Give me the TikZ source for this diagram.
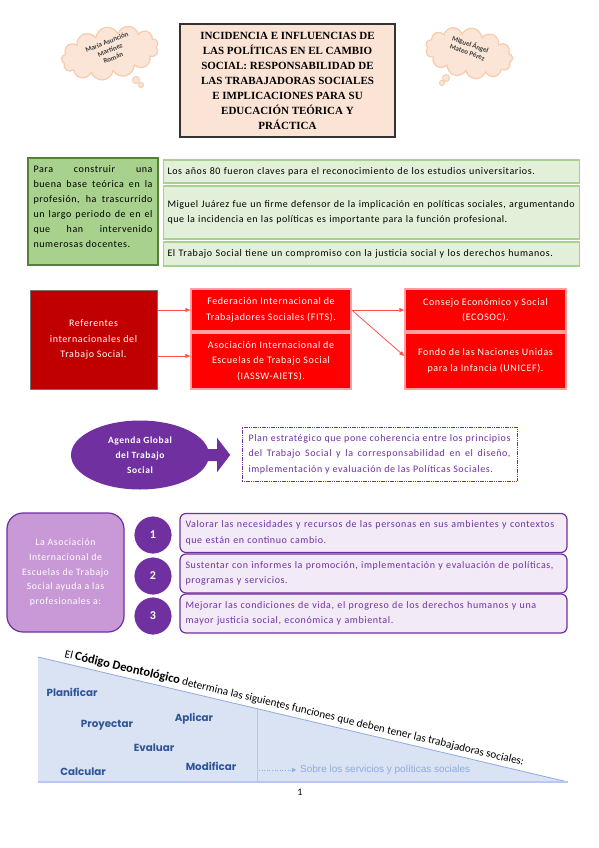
\documentclass[tikz,border=0pt]{standalone}
\usepackage{fontspec}
\setmainfont{Carlito}[LetterSpace=6]
\newfontfamily\plainfont{Carlito}
\newfontfamily\titlefont{Liberation Serif}
\newfontfamily\wordfont{Poppins}
\newfontfamily\arialfont{Liberation Sans}
\usetikzlibrary{shapes.symbols,shapes.geometric,arrows.meta,calc}
\definecolor{cloudfill}{HTML}{FBE5D6}
\definecolor{cloudline}{HTML}{F8CBAD}
\definecolor{titlefill}{HTML}{FBE4D5}
\definecolor{gdarkfill}{HTML}{A9D18E}
\definecolor{gdarkline}{HTML}{548235}
\definecolor{glightfill}{HTML}{E2EFD9}
\definecolor{glightline}{HTML}{A9D18E}
\definecolor{rdark}{HTML}{C00000}
\definecolor{rbright}{HTML}{FF0000}
\definecolor{rline}{HTML}{FF9F9F}
\definecolor{rarrowcol}{HTML}{FF5050}
\definecolor{purp}{HTML}{7030A0}
\definecolor{lpurp}{HTML}{C899D6}
\definecolor{lavender}{HTML}{F3EAF8}
\definecolor{trifill}{HTML}{DAE3F3}
\definecolor{triline}{HTML}{B4C7E7}
\definecolor{wordblue}{HTML}{2F5597}
\definecolor{sobrecol}{HTML}{8FAADC}
\tikzset{
  basefont/.style={font=\fontsize{10}{15.5}\selectfont},
  cloudbox/.style={cloud, cloud puffs=13, aspect=1.9, draw=cloudline, fill=cloudfill, line width=1.2, minimum width=98, minimum height=52},
  cloudtext/.style={font=\plainfont\bfseries\fontsize{7}{8.5}\selectfont, text=black!75, align=center},
  titlebox/.style={draw=black!80, line width=1.5, fill=titlefill, minimum width=215, minimum height=113, align=center, font=\titlefont\bfseries\fontsize{11}{15}\selectfont},
  gdark/.style={draw=gdarkline, line width=2.5, fill=gdarkfill},
  glight/.style={draw=glightline, line width=1.5, fill=glightfill, minimum width=416, text width=408, inner xsep=4, align=left, basefont},
  rleft/.style={draw=black!55, line width=1, fill=rdark, text=white, align=center, basefont},
  rbox/.style={draw=rline, line width=1.5, fill=rbright, text=white, align=center, minimum width=160, basefont},
  rarrow/.style={draw=rarrowcol, line width=0.8, -{Triangle[length=5pt,width=4pt]}},
  nbox/.style={draw=purp, line width=1.2, fill=lavender, rounded corners=6, minimum width=387, minimum height=39, text width=376, align=left, text=purp, basefont},
  numc/.style={circle, fill=purp, draw=white, line width=0.8, minimum size=38, text=white, font=\bfseries\fontsize{12}{12}\selectfont},
  word/.style={text=wordblue, font=\wordfont\bfseries\fontsize{10.3}{11}\selectfont},
}
\begin{document}
\begin{tikzpicture}[x=1pt,y=-1pt]
\useasboundingbox[fill=white] (0,0) rectangle (599,848);

% clouds
\node[cloudbox, rotate=10] (cl1) at (110,53) {};
\node[circle, fill=cloudfill, draw=cloudline, line width=1, minimum size=7, inner sep=0] (cl1a) at (136,80) {};
\node[circle, fill=cloudfill, draw=cloudline, line width=1, minimum size=5, inner sep=0] (cl1b) at (141,85) {};
\node[cloudtext, rotate=22] (cl1t) at (110,50) {María Asunción\\Martínez\\Román};

\node[cloudbox, rotate=-10, minimum width=88, minimum height=50] (cl2) at (469,53) {};
\node[circle, fill=cloudfill, draw=cloudline, line width=1, minimum size=7, inner sep=0] (cl2a) at (446,78) {};
\node[circle, fill=cloudfill, draw=cloudline, line width=1, minimum size=5, inner sep=0] (cl2b) at (442,83) {};
\node[cloudtext, rotate=-20] (cl2t) at (469,48) {Miguel Ángel\\Mateo Pérez};

% title
\node[titlebox] (title) at (287.5,80.5) {INCIDENCIA E INFLUENCIAS DE\\LAS POLÍTICAS EN EL CAMBIO\\SOCIAL: RESPONSABILIDAD DE\\LAS TRABAJADORAS SOCIALES\\E IMPLICACIONES PARA SU\\EDUCACIÓN TEÓRICA Y\\PRÁCTICA};

% green section
\node[gdark, minimum width=130, minimum height=107] (g0) at (93,211.5) {};
\node[font=\fontsize{10}{15}\selectfont, text width=119, align=justify, anchor=north] (g0t) at (g0.north) [yshift=-5pt] {Para construir una\linebreak buena base teórica en la\linebreak profesión, ha trascurrido\linebreak un largo periodo de en el\linebreak que han intervenido\linebreak numerosas docentes.};
\node[glight, minimum height=23] (g1) at (371.5,171.5) {Los años 80 fueron claves para el reconocimiento de los estudios universitarios.};
\node[glight, minimum height=53, font=\addfontfeatures{LetterSpace=5}\fontsize{10}{15.5}\selectfont] (g2) at (371.5,212.5) {Miguel Juárez fue un firme defensor de la implicación en políticas sociales, argumentando\\que la incidencia en las políticas es importante para la función profesional.};
\node[glight, minimum height=24] (g3) at (371.5,254) {El Trabajo Social tiene un compromiso con la justicia social y los derechos humanos.};

% red section
\node[rleft, minimum width=127, minimum height=99] (r0) at (93.5,339.5) {Referentes\\internacionales del\\Trabajo Social.};
\node[rbox, minimum height=42] (m1) at (271,310) {Federación Internacional de\\Trabajadores Sociales (FITS).};
\node[rbox, minimum height=56] (m2) at (271,361) {Asociación Internacional de\\Escuelas de Trabajo Social\\(IASSW-AIETS).};
\node[rbox, minimum width=161, minimum height=42] (n1) at (485.5,310) {Consejo Económico y Social\\(ECOSOC).};
\node[rbox, minimum width=161, minimum height=56] (n2) at (485.5,361) {Fondo de las Naciones Unidas\\para la Infancia (UNICEF).};
\draw[rarrow] (r0.east |- m1.west) -- (m1.west);
\draw[rarrow] (r0.east |- 0,356) -- (m2.west |- 0,356);
\draw[rarrow] (m1.east) -- (n1.west);
\draw[rarrow] (m1.east) -- (n2.west |- 0,356);

% agenda
\node[ellipse, fill=purp, minimum width=138, minimum height=69, text=white, align=center, font=\bfseries\fontsize{9.5}{15}\selectfont] (ag) at (140,455) {Agenda Global\\del Trabajo\\Social};
\fill[purp] ($(ag.east)+(-4,-6)$) -- ($(ag.east)+(8,-6)$) -- ($(ag.east)+(8,-17)$) -- ($(ag.east)+(21,0)$) -- ($(ag.east)+(8,17)$) -- ($(ag.east)+(8,6)$) -- ($(ag.east)+(-4,6)$) -- cycle;
\node[draw=purp, line width=1, dash pattern=on 1.2pt off 0.6pt, minimum width=275, minimum height=54, text width=262, align=justify, text=purp, basefont] (plan) at (379.5,454) {Plan estratégico que pone coherencia entre los principios\linebreak del Trabajo Social y la corresponsabilidad en el diseño,\linebreak implementación y evaluación de las Políticas Sociales.};

% numbered section
\node[draw=purp, line width=1.2, fill=lpurp, rounded corners=16, minimum width=117, minimum height=119, text=white, align=center, font=\fontsize{9.8}{14.8}\selectfont] (asoc) at (65.5,572.5) {La Asociación\\Internacional de\\Escuelas de Trabajo\\Social ayuda a las\\profesionales a:};
\node[nbox] (b1) at (373.5,533) {Valorar las necesidades y recursos de las personas en sus ambientes y contextos\\que están en continuo cambio.};
\node[nbox] (b2) at (373.5,573.5) {Sustentar con informes la promoción, implementación y evaluación de políticas,\\programas y servicios.};
\node[nbox] (b3) at (373.5,613.5) {Mejorar las condiciones de vida, el progreso de los derechos humanos y una\\mayor justicia social, económica y ambiental.};
\node[numc] (c1) at (153,535) {1};
\node[numc] (c2) at (153,576) {2};
\node[numc] (c3) at (153,616) {3};

% triangle
\fill[trifill] (38,657) -- (38,782) -- (568,782) -- cycle;
\draw[sobrecol, line width=0.8] (38,657) -- (568,782);
\draw[triline!80!blue!60, line width=1.5] (38,782) -- (568,782);
\draw[triline, line width=0.8] (257,708.6) -- (257,782);
\node[anchor=base west, rotate=-13.3, inner sep=0, font=\plainfont\fontsize{11.2}{12}\selectfont] (hyp) at (64,657) {El {\bfseries\fontsize{12.5}{14}\selectfont Código Deontológico} determina las siguientes funciones que deben tener las trabajadoras sociales:};
\node[word] (w1) at (72,692) {Planificar};
\node[word] (w2) at (107,725) {Proyectar};
\node[word] (w3) at (194,719) {Aplicar};
\node[word] (w4) at (154,748) {Evaluar};
\node[word] (w5) at (83,772) {Calcular};
\node[word] (w6) at (211,766) {Modificar};
\coordinate (sa) at (259,770);
\node[anchor=west, text=sobrecol, font=\arialfont\fontsize{10}{11}\selectfont, inner sep=0] (sobre) at (300,770) {Sobre los servicios y políticas sociales};
\draw[sobrecol, line width=0.6, dotted, -{Triangle[length=4pt,width=4pt]}] (sa) -- ($(sobre.west)+(-4,0)$);

\node[font=\plainfont\fontsize{10}{10}\selectfont] (pg) at (300,792) {1};
\end{tikzpicture}
\end{document}
